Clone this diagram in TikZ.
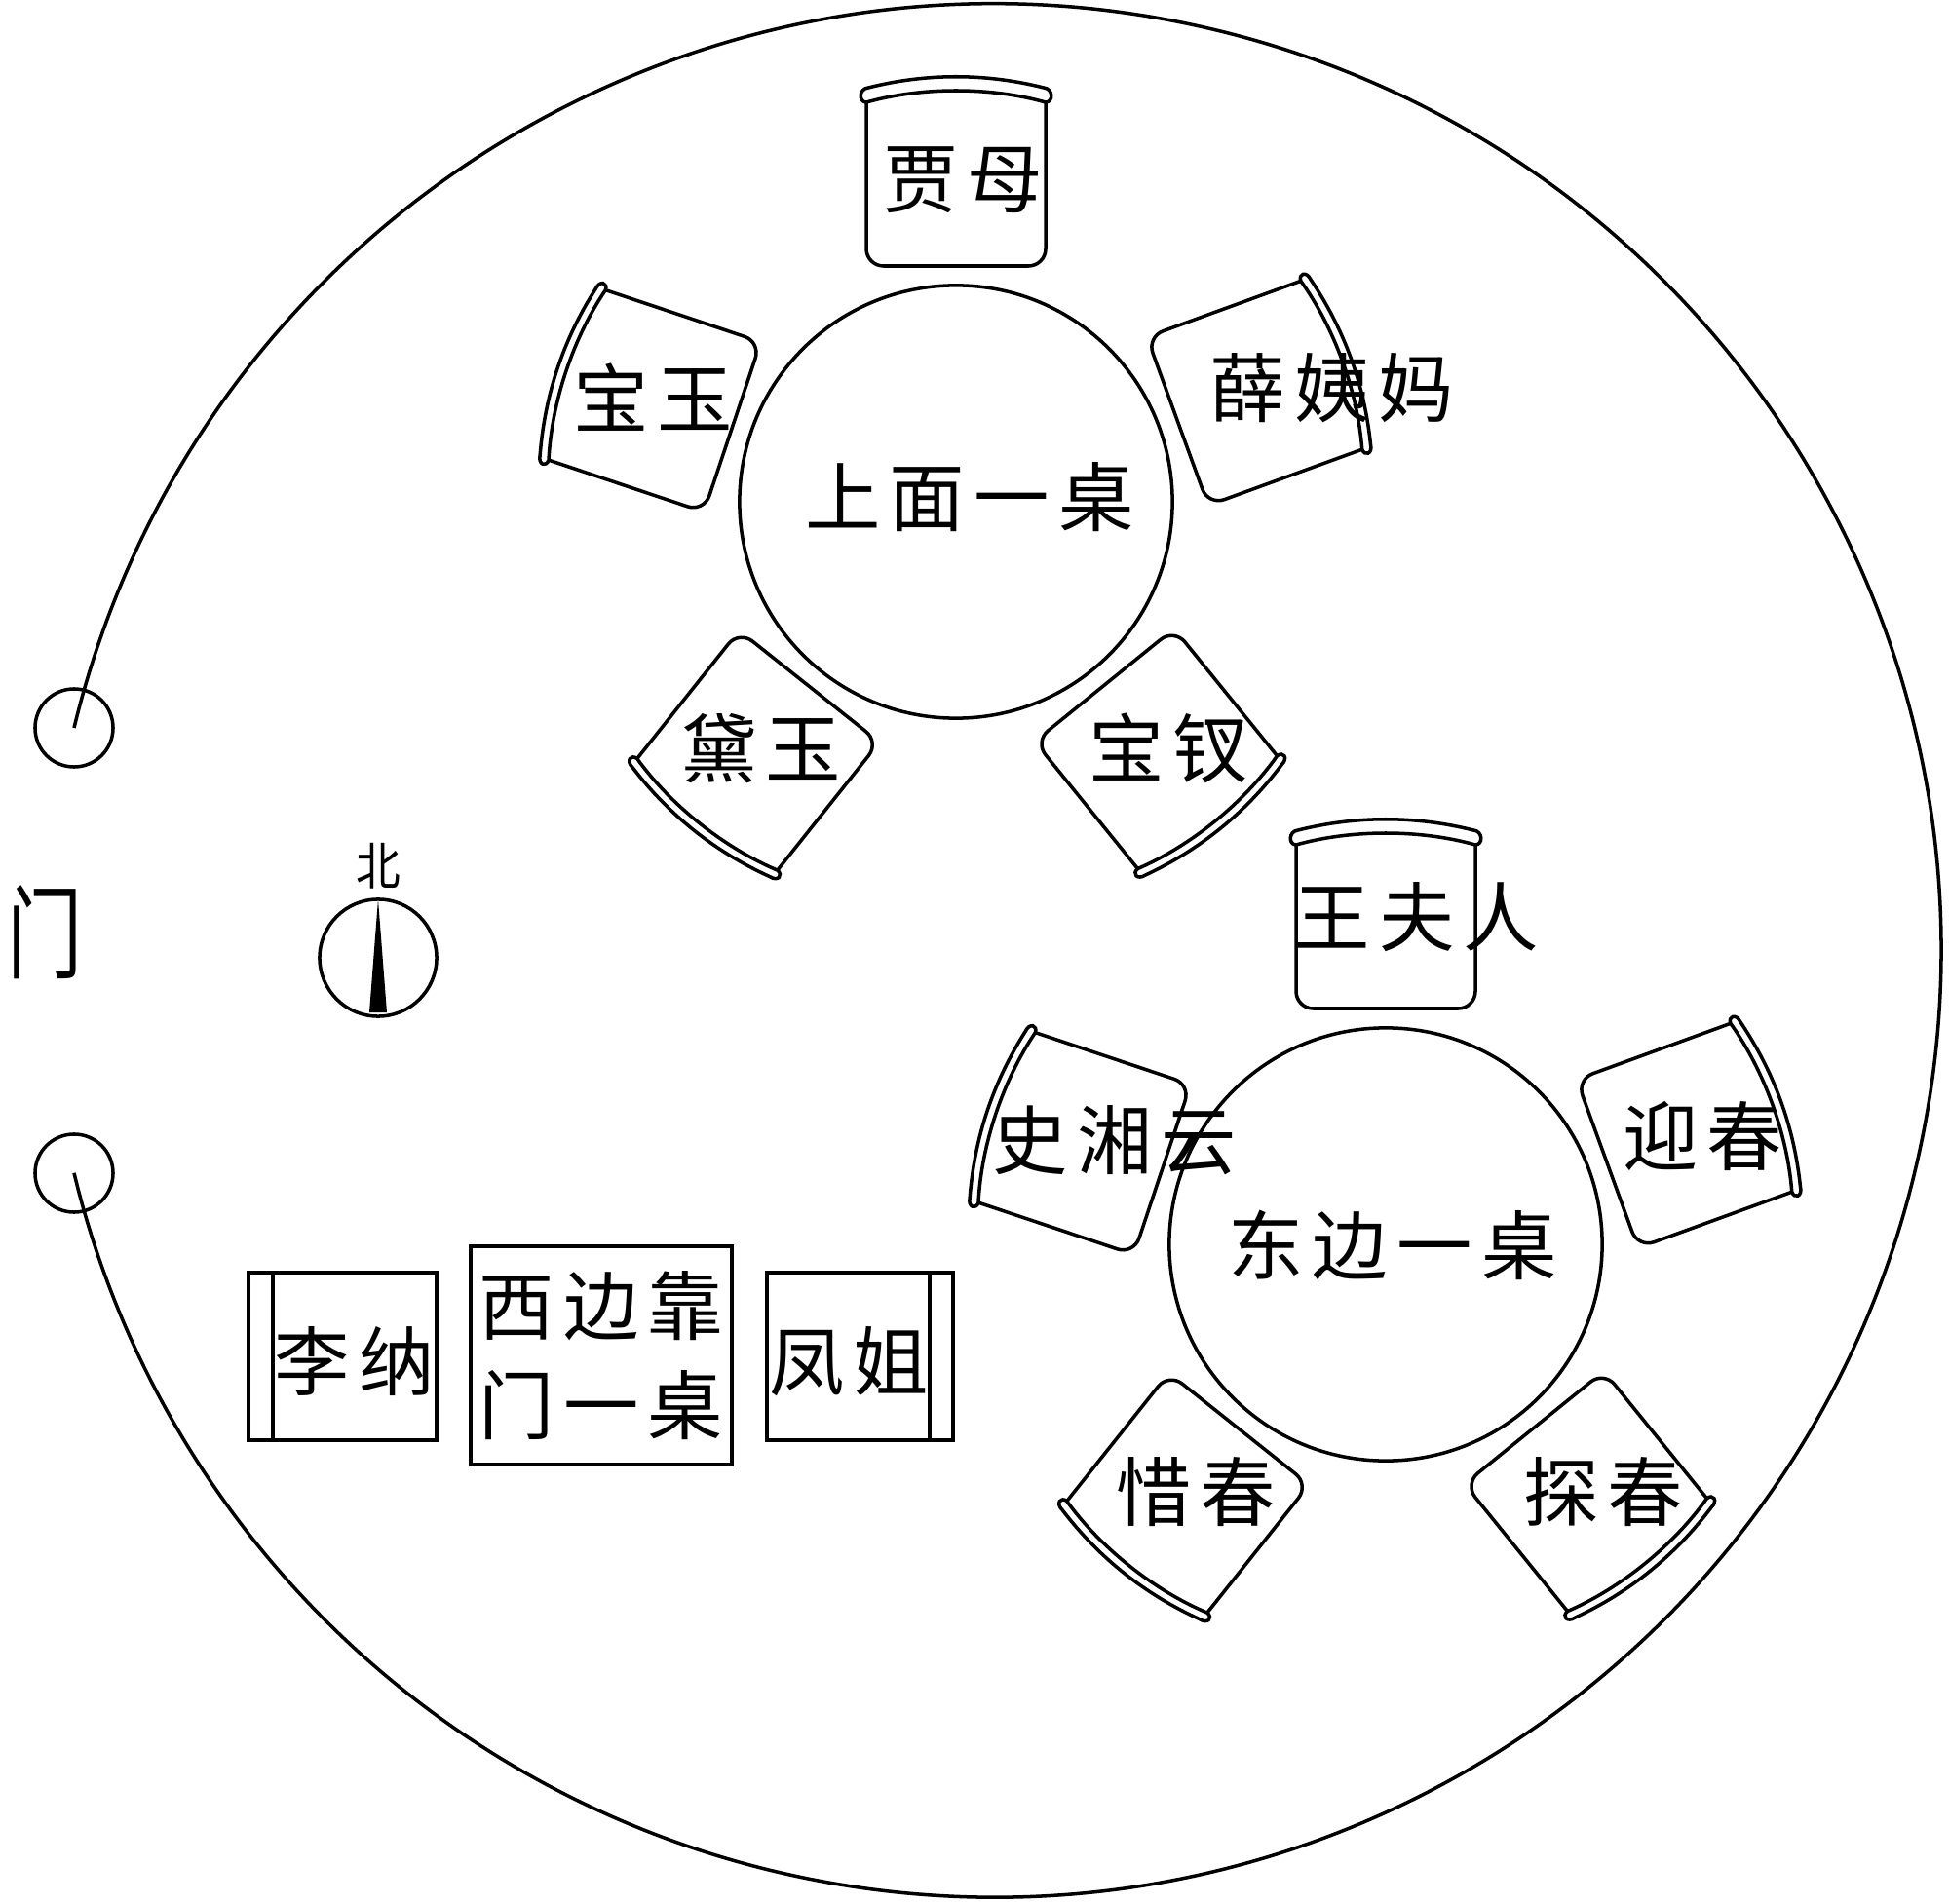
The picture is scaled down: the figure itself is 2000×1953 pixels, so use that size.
\documentclass[tikz,border=0pt]{standalone}
\usepackage{fontspec}
\setmainfont{Noto Sans CJK SC}[LetterSpace=12]
\usepackage{tikz}
\usetikzlibrary{positioning,calc}
\tikzset{
  wall/.style={draw=black,line width=1pt},
  roundtable/.style={circle,draw=black,line width=1pt,minimum size=4.44cm,inner sep=0pt},
  doorpost/.style={circle,draw=black,line width=1pt,minimum size=0.8cm,inner sep=0pt},
  namelabel/.style={font=\fontsize{22}{29}\selectfont,align=center,inner sep=0pt},
  smalllabel/.style={font=\fontsize{13}{15}\selectfont,inner sep=0pt},
  seat/.pic={
    \draw[wall,rounded corners=5pt] (-92,410) -- (-92,242) -- (92,242) -- (92,410);
    \draw[wall,fill=white] (-92,410) .. controls (-35,426) and (35,426) .. (92,410)
      .. controls (100,410) and (100,410+#1) .. (90,411+#1)
      .. controls (30,426+#1) and (-30,426+#1) .. (-90,411+#1)
      .. controls (-100,410+#1) and (-100,410) .. (-92,410) -- cycle;
  }
}

\begin{document}
\begin{tikzpicture}[x=0.01cm,y=0.01cm]
      \useasboundingbox (0,0) rectangle (2000,1953);

      % wall and door
      \node[doorpost] (doorN) at (76,1206) {};
      \node[doorpost] (doorS) at (76,749) {};
      \draw[wall] (doorN.center) arc[start angle=166.4,end angle=-166.4,radius=9.71cm];
      \node[namelabel,transform shape,yscale=1.35] (door) at (46,996) {门};

      % north mark
      \node[smalllabel,transform shape,yscale=1.15] (north) at (388,1064) {北};
      \fill[black] (388,1030) -- (397,914) -- (379,914) -- cycle;
      \node[circle,draw=black,line width=1pt,minimum size=1.2cm,inner sep=0pt] (compass) at (388,970) {};

      % upper table
      \node[roundtable] (tableUp) at (981,1438) {};
      \foreach \ang/\who/\gap in {90/jia/14,161.5/bao/9,20/xue/9,-128.5/dai/9,-51/cha/9} {
        \pic (\who) [rotate=\ang-90] at (tableUp) {seat=\gap};
      }
      \node[namelabel] (textUp) at (995,1443) {上面一桌};
      \node[namelabel] (textJia) at (988,1768) {贾母};
      \node[namelabel] (textBao) at (670,1545) {宝玉};
      \node[namelabel] (textXue) at (1367,1555) {薛姨妈};
      \node[namelabel] (textDai) at (781,1185) {黛玉};
      \node[namelabel] (textCha) at (1199,1185) {宝钗};

      % east table
      \node[roundtable] (tableEast) at (1422,676) {};
      \foreach \ang/\who/\gap in {90/wang/14,161.5/shi/9,20/ying/9,-128.5/xi/9,-51/tan/9} {
        \pic (\who) [rotate=\ang-90] at (tableEast) {seat=\gap};
      }
      \node[namelabel] (textEast) at (1429,675) {东边一桌};
      \node[namelabel] (textWang) at (1454,1012) {王夫人};
      \node[namelabel] (textShi) at (1144,783) {史湘云};
      \node[namelabel] (textYing) at (1747,787) {迎春};
      \node[namelabel] (textXi) at (1227,422) {惜春};
      \node[namelabel] (textTan) at (1645,422) {探春};

      % west table by the door
      \draw[wall] (483,450) rectangle (751,674);
      \node[namelabel] (textWest) at (617,562) {西边靠\\门一桌};
      \draw[wall] (255,475) rectangle (448,647);
      \draw[wall] (280,475) -- (280,647);
      \node[namelabel] (textLi) at (364,556) {李纳};
      \draw[wall] (787,475) rectangle (978,647);
      \draw[wall] (954,475) -- (954,647);
      \node[namelabel] (textFeng) at (871,556) {凤姐};
    \end{tikzpicture}
\end{document}
